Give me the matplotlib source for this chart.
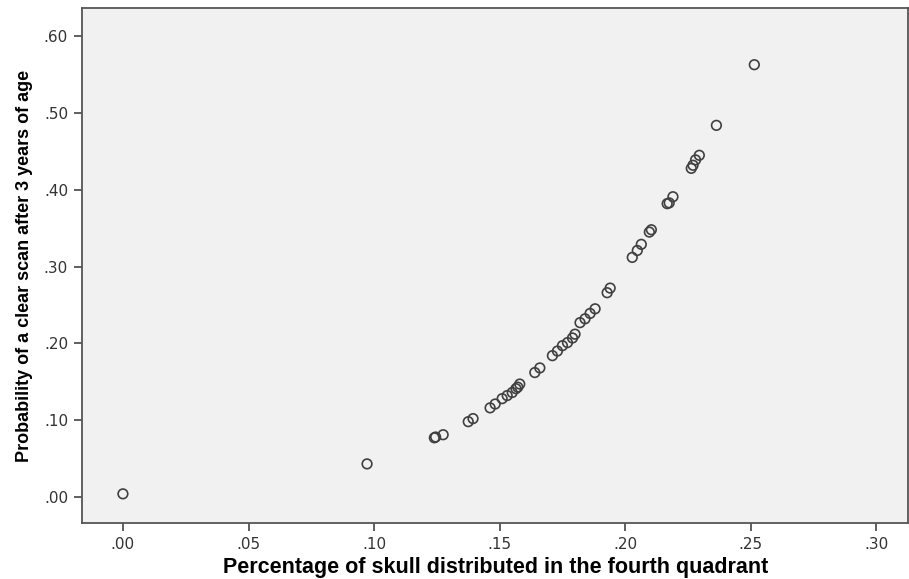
import numpy as np
import matplotlib.pyplot as plt
import matplotlib.ticker as ticker

# fração do crânio no 4º quadrante x probabilidade de exame limpo
pct_quadrante = [0.000, 0.0972, 0.1240, 0.1245, 0.1275, 0.1375, 0.1394,
                 0.1462, 0.1482, 0.1510, 0.1530, 0.1550, 0.1565, 0.1572,
                 0.1580, 0.1640, 0.1660, 0.1710, 0.1730, 0.1750, 0.1770,
                 0.1790, 0.1800, 0.1820, 0.1840, 0.1860, 0.1880, 0.1928,
                 0.1940, 0.2028, 0.2048, 0.2064, 0.2096, 0.2104, 0.2167,
                 0.2175, 0.2190, 0.2263, 0.2270, 0.2280, 0.2295, 0.2363,
                 0.2514]
prob_scan = [0.004, 0.043, 0.077, 0.078, 0.081, 0.098, 0.102,
             0.116, 0.121, 0.128, 0.132, 0.136, 0.141, 0.143,
             0.147, 0.162, 0.168, 0.184, 0.190, 0.197, 0.201,
             0.207, 0.212, 0.227, 0.232, 0.239, 0.245, 0.266,
             0.272, 0.312, 0.321, 0.329, 0.345, 0.348, 0.382,
             0.383, 0.391, 0.428, 0.432, 0.439, 0.445, 0.484,
             0.563]

xticks = [0.00, 0.05, 0.10, 0.15, 0.20, 0.25, 0.30]
yticks = [0.00, 0.10, 0.20, 0.30, 0.40, 0.50, 0.60]

fig = plt.figure(figsize=(9.09, 5.79), dpi=100)
ax = fig.add_axes([0.0902, 0.0967, 0.909, 0.889])
ax.set_facecolor('#f1f1f1')

ax.scatter(pct_quadrante, prob_scan, s=48, facecolors='none',
           edgecolors='#404040', linewidths=1.2, zorder=3)

ax.set_xlim(-0.0163, 0.3127)
ax.set_ylim(-0.034, 0.6365)
ax.set_xticks(xticks)
ax.set_yticks(yticks)
fmt = ticker.FuncFormatter(lambda v, p: f"{v:.2f}".lstrip('0'))
ax.xaxis.set_major_formatter(fmt)
ax.yaxis.set_major_formatter(fmt)
ax.tick_params(direction='out', length=6, width=1.2, color='#444444',
               labelsize=11, labelcolor='#333333', pad=4)

for s in ax.spines.values():
    s.set_color('#555555')
    s.set_linewidth(1.3)

fonte = ['Liberation Sans', 'DejaVu Sans']
ax.set_xlabel("Percentage of skull distributed in the fourth quadrant",
              fontsize=15.5, weight='bold', family=fonte, labelpad=4)
ax.set_ylabel("Probability of a clear scan after 3 years of age",
              fontsize=13, weight='bold', family=fonte, labelpad=8)

plt.savefig('out.png', dpi=100)
plt.close()
